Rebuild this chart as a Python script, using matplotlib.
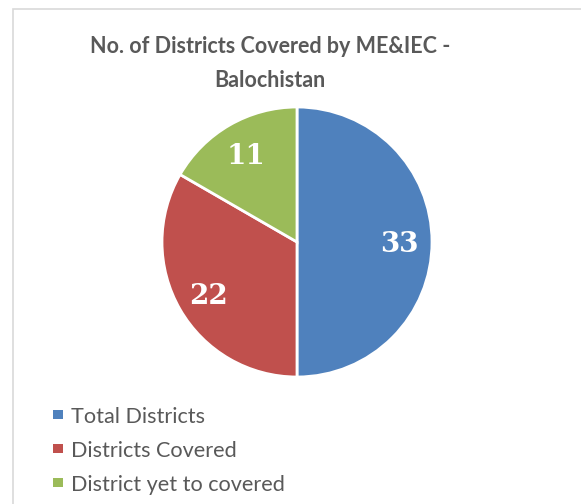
import matplotlib.pyplot as plt
from matplotlib.patches import Rectangle

# Data
labels = ['Total Districts', 'Districts Covered', 'District yet to covered']
values = [33, 22, 11]
colors = ['#4F81BD', '#C0504D', '#9BBB59']

W, H = 581, 504
fig = plt.figure(figsize=(W / 100, H / 100), dpi=100)

# light chart border (right/bottom edges fall outside the picture)
fig.patches.append(Rectangle((13 / W, -0.02), 1.0, 1 - 9 / H + 0.02,
                             transform=fig.transFigure, fill=False,
                             edgecolor='#d9d9d9', linewidth=1.2))

fig.text(270 / W, 1 - 53 / H, 'No. of Districts Covered by ME&IEC -',
         ha='center', va='baseline', fontsize=15.5, fontweight='bold',
         color='#595959', family='Lato')
fig.text(270 / W, 1 - 87 / H, 'Balochistan',
         ha='center', va='baseline', fontsize=15.5, fontweight='bold',
         color='#595959', family='Lato')

# pie axes: center (297, 242), radius 135 px
r = 135
ax = fig.add_axes([(297 - r) / W, 1 - (242 + r) / H, 2 * r / W, 2 * r / H])
wedges, texts, autotexts = ax.pie(
    values, colors=colors, startangle=90, counterclock=False,
    autopct=lambda p: f'{round(p * sum(values) / 100):d}', pctdistance=0.76,
    wedgeprops=dict(edgecolor='white', linewidth=2), radius=1)
for t in autotexts:
    t.set_color('white')
    t.set_fontsize(20)
    t.set_fontweight('bold')
    t.set_family('DejaVu Serif')
    t.set_va('center_baseline')
ax.set_xlim(-1, 1)
ax.set_ylim(-1, 1)
ax.set_aspect('equal')

# legend
rows = [423, 457, 491]
for lab, col, y in zip(labels, colors, rows):
    fig.patches.append(Rectangle((53 / W, 1 - (y - 4) / H), 9.5 / W, 9.5 / H,
                                 transform=fig.transFigure, facecolor=col,
                                 edgecolor='none'))
    fig.text(71 / W, 1 - y / H, lab, ha='left', va='baseline', fontsize=15.6,
             color='#595959', family='Lato')

fig.savefig('out.png', dpi=100, facecolor='white')
